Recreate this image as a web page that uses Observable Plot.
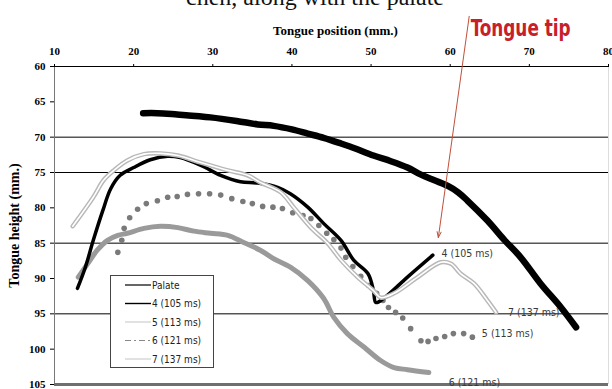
<!DOCTYPE html>
<html><head><meta charset="utf-8">
<script src="https://cdn.jsdelivr.net/npm/d3@7"></script>
<script src="https://cdn.jsdelivr.net/npm/@observablehq/plot@0.6"></script>
<style>
body{margin:0;background:#fff;}
#wrap{position:relative;width:612px;height:389px;overflow:hidden;background:#fff;}
#title{position:absolute;left:0;top:-15px;width:612px;text-align:center;font:24px/24px "Liberation Serif",serif;color:#111;white-space:nowrap;padding-left:18px;box-sizing:border-box;}
#chart{position:absolute;left:0;top:0;}
#legend{position:absolute;left:110px;top:275px;}
</style></head>
<body><div id="wrap"><div id="chart"></div><div id="title">chen, along with the palate</div><div id="legend"></div></div>
<script>
// ---- data (mm) ----
const xTicks = [10, 20, 30, 40, 50, 60, 70, 80];
const yTicks = [60, 65, 70, 75, 80, 85, 90, 95, 100, 105];
const gridValues = [60, 70, 75, 85, 95];

const palate = [[21.2,66.6],[23,66.6],[25.5,66.8],[29.7,67.2],[33,67.7],[35.7,68.2],[37.7,68.4],[40,68.9],[42,69.5],[44,70.1],[46.2,70.9],[48,71.6],[50.3,72.6],[52.5,73.4],[54.6,74.3],[56.3,75.3],[58,76.1],[59.7,76.9],[61,77.8],[62.2,79.0],[64.7,81.8],[66.8,84.5],[68.9,87.0],[71.4,90.7],[74,94.1],[75.9,96.9]];

const s4 = [[12.9,91.4],[13.9,88.4],[14.9,84.6],[16.1,80.4],[17.1,77.3],[18.3,75.4],[20.0,74.3],[22.1,73.2],[24.3,72.7],[25.9,72.9],[28.5,74.0],[31.0,75.4],[33.5,76.3],[35.7,76.5],[38.2,77.1],[39.8,78.0],[42.0,79.9],[44.0,82.2],[46.2,84.6],[47.8,87.4],[49.6,89.3],[50.3,91.7],[50.6,93.4],[51.6,92.8],[54.6,89.8],[57.8,86.7]];

const s5 = [[18.0,86.3],[18.5,84.6],[18.8,82.9],[19.5,81.4],[20.5,80.2],[21.6,79.4],[23.0,79.0],[24.3,78.5],[25.5,78.4],[26.8,78.1],[28.2,78.0],[29.6,78.0],[31.0,78.2],[32.4,78.7],[33.8,79.1],[35.0,79.4],[36.3,79.8],[37.6,79.9],[38.8,80.1],[40.1,80.7],[41.4,81.1],[42.4,81.5],[43.4,82.5],[44.4,83.6],[45.3,84.5],[46.2,85.7],[46.8,87.0],[47.7,88.3],[48.7,89.7],[49.7,91.0],[50.7,92.1],[51.5,93.1],[52.2,94.1],[53.1,94.8],[54.0,95.6],[55.0,97.1],[56.3,98.8],[57.2,98.9],[58.2,98.5],[59.3,98.2],[60.4,97.8],[61.7,97.8],[62.8,98.3]];

const s6 = [[13.0,89.8],[14.2,87.9],[15.4,86.0],[16.7,84.6],[18.0,83.9],[19.2,83.6],[21.3,82.9],[23.4,82.6],[25.6,82.8],[27.6,83.3],[29.7,83.6],[31.9,83.9],[33.9,84.9],[36.0,86.0],[37.7,87.2],[39.8,88.4],[42.0,90.3],[44.0,92.8],[45.3,95.5],[47.0,97.8],[49.1,99.7],[51.2,101.6],[52.9,102.6],[54.6,102.9],[57.3,103.3]];

const s7 = [[12.3,82.6],[14.9,78.5],[16.2,76.1],[17.5,74.7],[19.2,73.3],[21.3,72.4],[23.4,72.3],[25.6,72.6],[28.5,73.6],[31.9,74.7],[34.4,75.4],[36.0,76.4],[38.6,77.8],[40.2,79.9],[42.4,82.8],[44.5,85.0],[46.2,87.4],[48.3,89.8],[50.3,91.7],[51.2,92.7],[52.9,92.1],[55.9,89.8],[58.8,87.7],[60.1,87.9],[61.3,89.3],[63.0,90.7],[64.7,93.1],[65.8,94.8]];

const seriesLabels = [
  {x: 58.9, y: 86.5, text: "4 (105 ms)"},
  {x: 67.3, y: 94.8, text: "7 (137 ms)"},
  {x: 64.0, y: 97.8, text: "5 (113 ms)"},
  {x: 59.8, y: 104.8, text: "6 (121 ms)"}
];

const legendNames = ["Palate", "4 (105 ms)", "5 (113 ms)", "6 (121 ms)", "7 (137 ms)"];

const annotation = [{x1: 62.4, y1: 52.9, x2: 58.5, y2: 84.2}];
const annotationText = [{x: 68.9, y: 54.6, text: "Tongue tip"}];

// ---- chart ----
const px = d => d[0], py = d => d[1];
const narrow = "'Liberation Sans Narrow', 'DejaVu Sans Condensed', sans-serif";
const chart = Plot.plot({
  width: 612, height: 389,
  marginTop: 66, marginLeft: 54, marginRight: 4, marginBottom: 5,
  x: {domain: [10, 80], axis: null},
  y: {domain: [60, 105], reverse: true, axis: null},
  style: {background: "white", fontFamily: "'Liberation Serif', serif"},
  marks: [
    Plot.ruleY(gridValues, {stroke: "#000", strokeWidth: 1}),
    Plot.ruleX([10], {stroke: "#777", strokeWidth: 1}),
    Plot.ruleX([80], {stroke: "#ddd", strokeWidth: 1}),
    Plot.ruleY([105], {stroke: "#6f6f6f", strokeWidth: 3}),
    Plot.axisX({anchor: "top", ticks: xTicks, tickSize: 3, tickPadding: 9, label: null, fontSize: 11, fontWeight: "bold"}),
    Plot.axisY({anchor: "left", ticks: yTicks, tickSize: 4, tickPadding: 5, label: null, fontSize: 11, fontWeight: "bold"}),
    Plot.text(["Tongue position (mm.)"], {frameAnchor: "top", lineAnchor: "middle", textAnchor: "middle", dx: 4, dy: -36, fontSize: 13, fontWeight: "bold", fill: "#000"}),
    Plot.text(["Tongue height (mm.)"], {frameAnchor: "left", textAnchor: "middle", lineAnchor: "middle", dx: -40, rotate: -90, fontSize: 14, fontWeight: "bold", fill: "#000"}),
    Plot.line(palate, {x: px, y: py, stroke: "#000", strokeWidth: 6.5, curve: "catmull-rom", strokeLinecap: "round"}),
    Plot.line(s6, {x: px, y: py, stroke: "#9a9a9a", strokeWidth: 5, curve: "catmull-rom", strokeLinecap: "round"}),
    Plot.dot(s5, {x: px, y: py, r: 2.8, fill: "#7a7a7a", stroke: null}),
    Plot.line(s4, {x: px, y: py, stroke: "#000", strokeWidth: 3.5, curve: "catmull-rom", strokeLinecap: "round"}),
    Plot.line(s7, {x: px, y: py, stroke: "#b8b8b8", strokeWidth: 4.5, curve: "catmull-rom", strokeLinejoin: "round"}),
    Plot.line(s7, {x: px, y: py, stroke: "#ffffff", strokeWidth: 1.6, curve: "catmull-rom", strokeLinejoin: "round"}),
    Plot.text(seriesLabels, {x: "x", y: "y", text: "text", textAnchor: "start", fontFamily: narrow, fontSize: 10.5, fill: "#3a3a3a"}),
    Plot.arrow(annotation, {x1: "x1", y1: "y1", x2: "x2", y2: "y2", stroke: "#c0503a", strokeWidth: 1, headLength: 9, headAngle: 40}),
    Plot.text(annotationText, {x: "x", y: "y", text: "text", fontFamily: narrow, fontWeight: "bold", fontSize: 23, fill: "#c8202a", className: "tiptext"})
  ]
});
document.getElementById("chart").appendChild(chart);
// condense the annotation text to the reference's narrow face
d3.select(chart).selectAll("text").filter(function(){ return this.textContent === "Tongue tip"; })
  .attr("textLength", 100).attr("lengthAdjust", "spacingAndGlyphs");

// ---- legend ----
const lw = 104, lh = 93;
const lstyles = [
  {stroke: "#000", w: 1.2, dash: null},
  {stroke: "#000", w: 1.4, dash: null},
  {stroke: "#c4c4c4", w: 1, dash: null},
  {stroke: "#888", w: 1, dash: "6,3,2,3"},
  {stroke: "#c4c4c4", w: 1, dash: null}
];
const lsvg = d3.create("svg").attr("width", lw).attr("height", lh);
lsvg.append("rect").attr("x", 0.5).attr("y", 0.5).attr("width", lw - 1).attr("height", lh - 1).attr("fill", "#fff").attr("stroke", "#444");
legendNames.forEach((name, i) => {
  const yy = 10 + i * 18.5;
  const st = lstyles[i];
  lsvg.append("line").attr("x1", 15).attr("x2", 41).attr("y1", yy).attr("y2", yy)
    .attr("stroke", st.stroke).attr("stroke-width", st.w).attr("stroke-dasharray", st.dash);
  lsvg.append("text").attr("x", 42).attr("y", yy).attr("dy", "0.35em")
    .attr("font-family", narrow)
    .attr("font-size", 10).attr("fill", "#222").text(name);
});
document.getElementById("legend").appendChild(lsvg.node());
</script>
</body></html>
